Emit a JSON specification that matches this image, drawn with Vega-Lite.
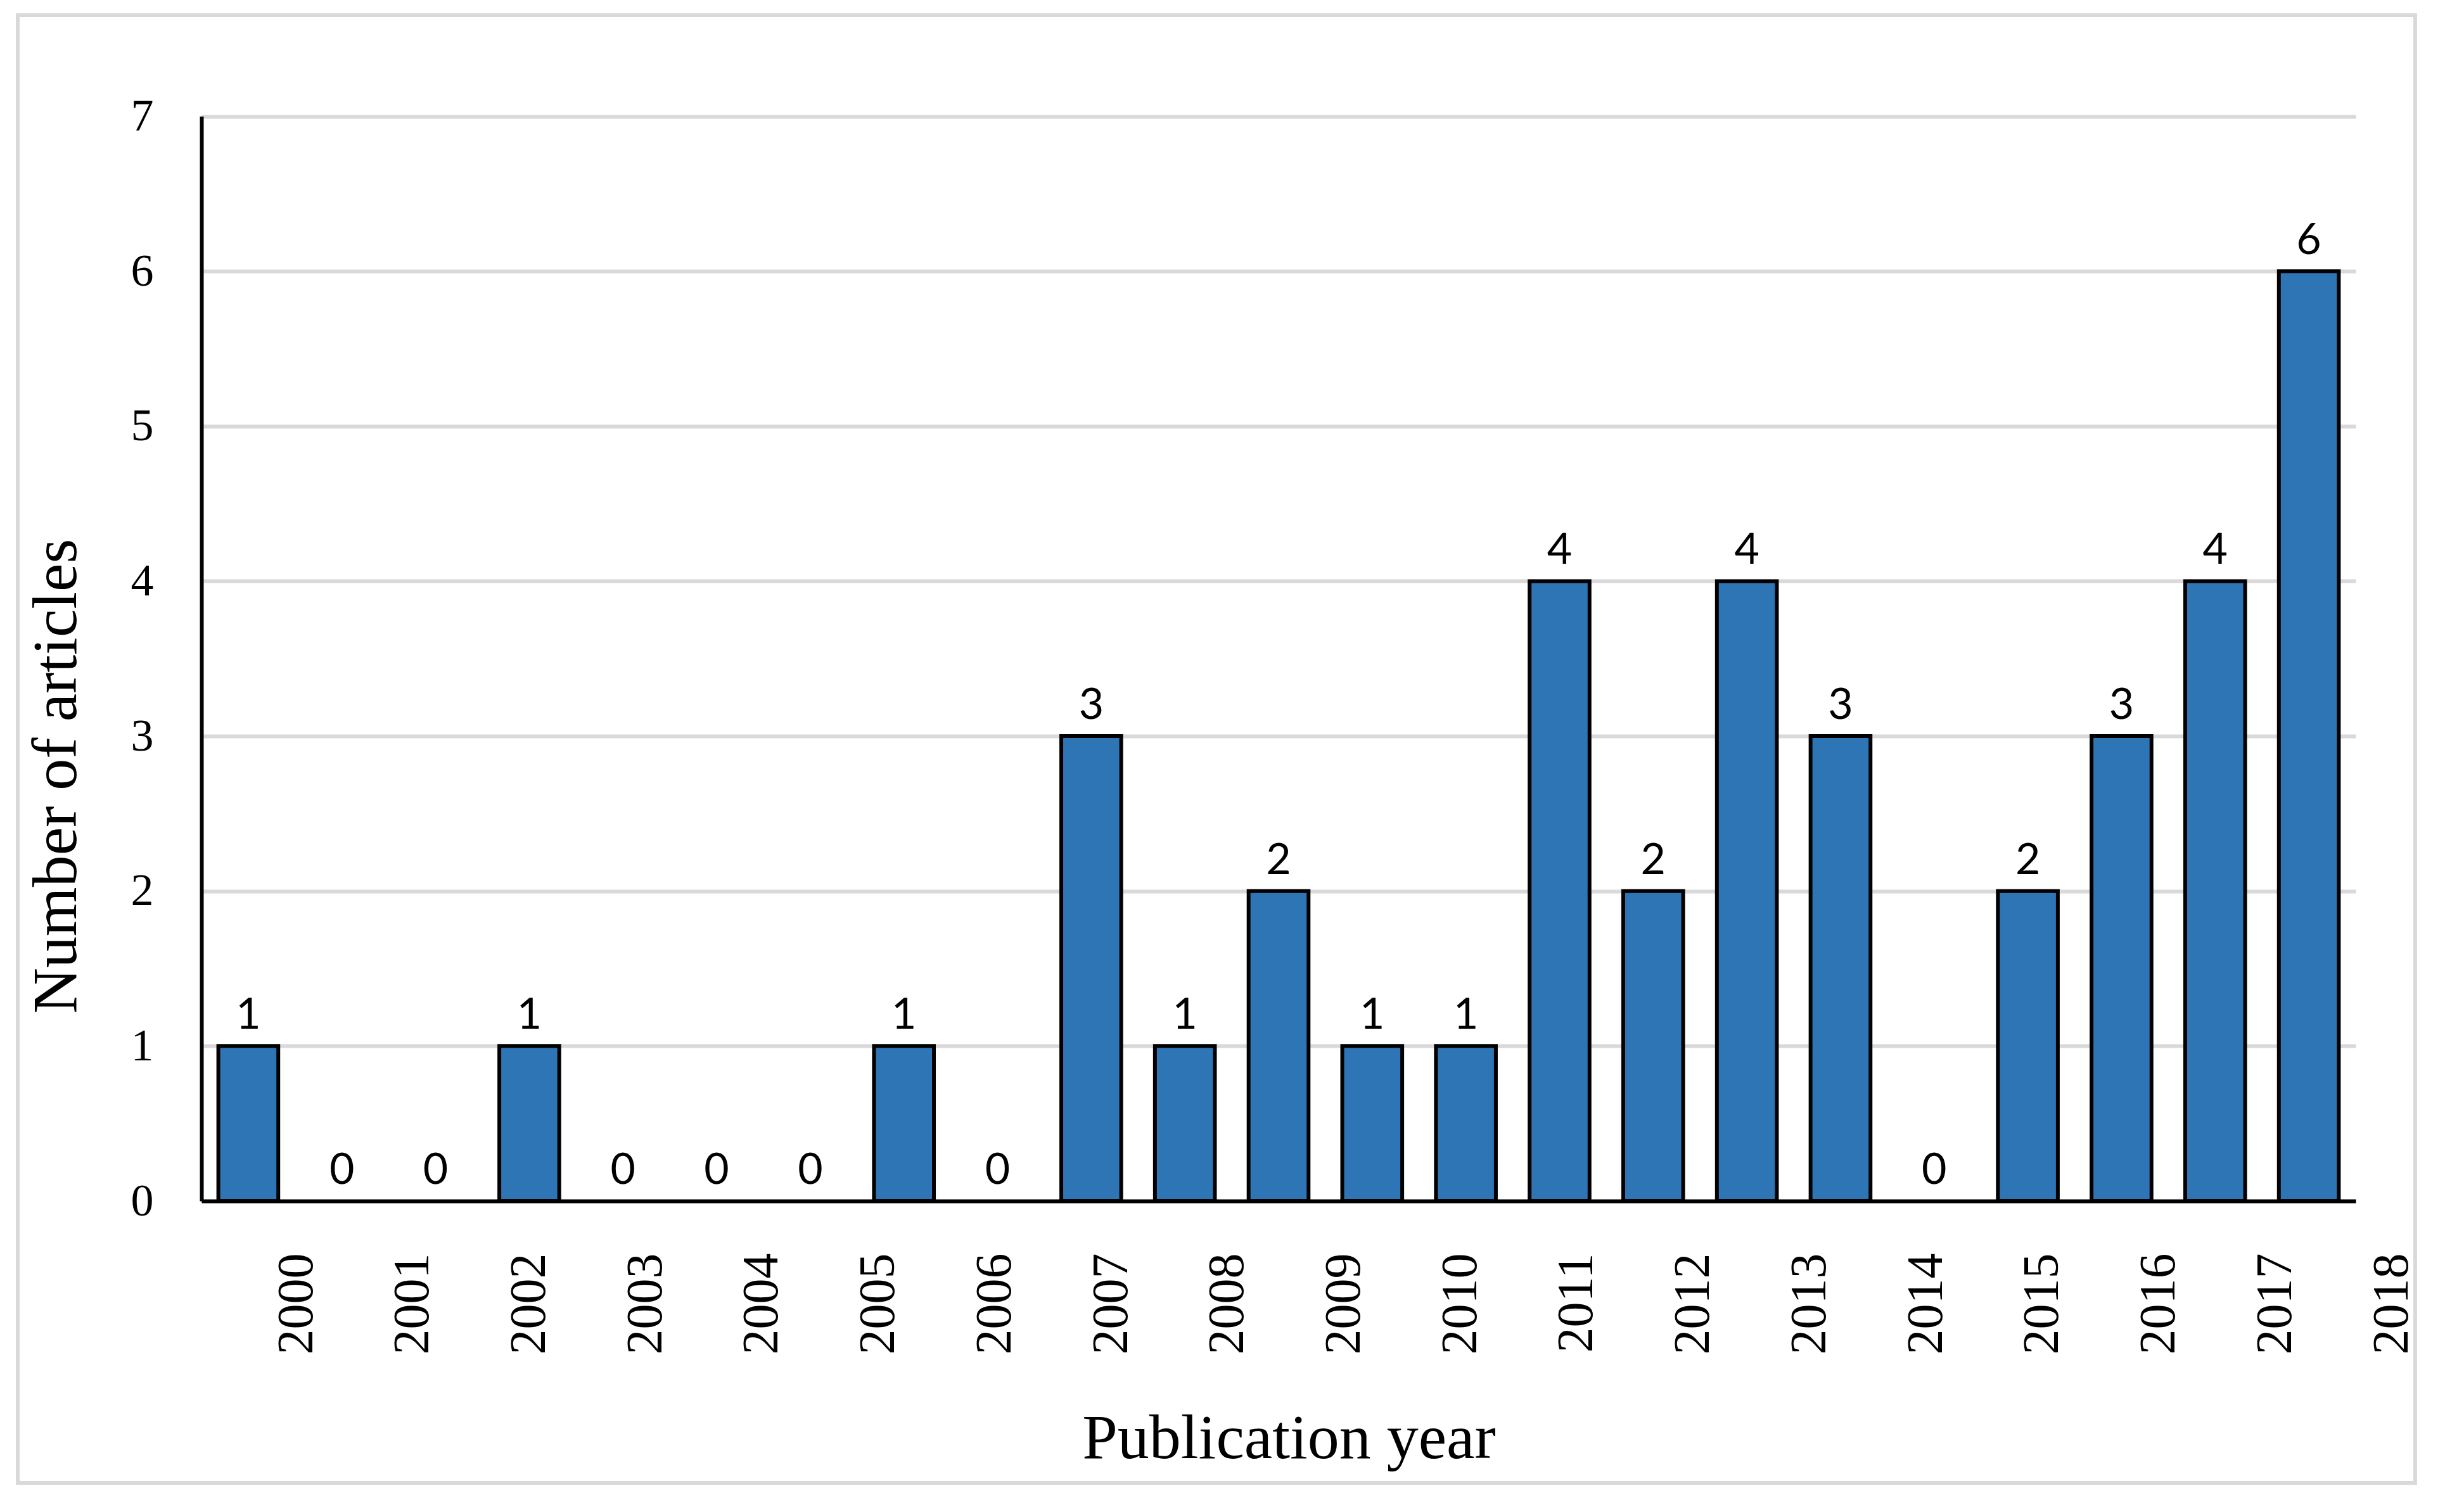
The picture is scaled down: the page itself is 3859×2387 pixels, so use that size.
{
  "$schema": "https://vega.github.io/schema/vega-lite/v6.json",
  "width": 3784,
  "height": 2317,
  "autosize": {"type": "none"},
  "padding": {"left": 28, "top": 24, "right": 47, "bottom": 46},
  "background": "white",
  "view": {"stroke": "#D9D9D9", "strokeWidth": 6, "fill": "white"},
  "datasets": {
    "counts": [
      {"bar": 1, "count": 1}, {"bar": 2, "count": 0}, {"bar": 3, "count": 0}, {"bar": 4, "count": 1},
      {"bar": 5, "count": 0}, {"bar": 6, "count": 0}, {"bar": 7, "count": 0}, {"bar": 8, "count": 1},
      {"bar": 9, "count": 0}, {"bar": 10, "count": 3}, {"bar": 11, "count": 1}, {"bar": 12, "count": 2},
      {"bar": 13, "count": 1}, {"bar": 14, "count": 1}, {"bar": 15, "count": 4}, {"bar": 16, "count": 2},
      {"bar": 17, "count": 4}, {"bar": 18, "count": 3}, {"bar": 19, "count": 0}, {"bar": 20, "count": 2},
      {"bar": 21, "count": 3}, {"bar": 22, "count": 4}, {"bar": 23, "count": 6}
    ],
    "years": [
      {"year": "2000"}, {"year": "2001"}, {"year": "2002"}, {"year": "2003"}, {"year": "2004"},
      {"year": "2005"}, {"year": "2006"}, {"year": "2007"}, {"year": "2008"}, {"year": "2009"},
      {"year": "2010"}, {"year": "2011"}, {"year": "2012"}, {"year": "2013"}, {"year": "2014"},
      {"year": "2015"}, {"year": "2016"}, {"year": "2017"}, {"year": "2018"}
    ]
  },
  "layer": [
    {
      "data": {"name": "counts"},
      "encoding": {
        "x": {
          "field": "bar",
          "type": "ordinal",
          "scale": {"range": [290, 3690], "paddingInner": 0.36, "paddingOuter": 0.18},
          "axis": {
            "orient": "bottom",
            "offset": -445,
            "labels": false,
            "ticks": false,
            "tickSize": 0,
            "title": null,
            "domain": true,
            "domainColor": "black",
            "domainWidth": 6,
            "grid": false,
            "zindex": 1
          }
        },
        "y": {
          "field": "count",
          "type": "quantitative",
          "scale": {"domain": [0, 7], "range": [1872, 159.5], "nice": false},
          "axis": {
            "orient": "left",
            "offset": -290,
            "values": [0, 1, 2, 3, 4, 5, 6, 7],
            "labelFont": "Liberation Serif",
            "labelFontSize": 72,
            "labelColor": "black",
            "labelPadding": 76,
            "labelFlush": false,
            "ticks": false,
            "tickSize": 0,
            "domain": true,
            "domainColor": "black",
            "domainWidth": 6,
            "grid": true,
            "gridColor": "#D9D9D9",
            "gridWidth": 6,
            "title": "Number of articles",
            "titleFont": "Liberation Serif",
            "titleFontSize": 100,
            "titleFontWeight": "normal",
            "titleColor": "black",
            "titleAngle": 270,
            "titleX": -199,
            "titleY": 1201,
            "titleBaseline": "alphabetic",
            "titleAlign": "center",
            "zindex": 0
          }
        }
      },
      "layer": [
        {
          "transform": [{"filter": "datum.count > 0"}],
          "mark": {"type": "bar", "fill": "#2E75B6", "stroke": "black", "strokeWidth": 6}
        },
        {
          "mark": {"type": "text", "dy": -27, "baseline": "alphabetic", "align": "center", "font": "Lato", "fontSize": 68, "color": "black"},
          "encoding": {"text": {"field": "count", "type": "quantitative"}}
        }
      ]
    },
    {
      "data": {"name": "years"},
      "mark": {"type": "point", "opacity": 0},
      "encoding": {
        "x": {
          "field": "year",
          "type": "ordinal",
          "scale": {"type": "point", "range": [440, 3747], "padding": 0},
          "axis": {
            "orient": "bottom",
            "offset": -445,
            "domain": false,
            "ticks": false,
            "tickSize": 0,
            "grid": false,
            "labelAngle": 270,
            "labelAlign": "right",
            "labelBaseline": "middle",
            "labelFont": "Liberation Serif",
            "labelFontSize": 80,
            "labelColor": "black",
            "labelPadding": 82,
            "labelOverlap": false,
            "title": "Publication year",
            "titleFont": "Liberation Serif",
            "titleFontSize": 100,
            "titleFontWeight": "normal",
            "titleColor": "black",
            "titleX": 2006,
            "titleY": 405,
            "titleBaseline": "alphabetic",
            "titleAlign": "center"
          }
        }
      }
    }
  ],
  "resolve": {"scale": {"x": "independent"}, "axis": {"x": "independent"}}
}
